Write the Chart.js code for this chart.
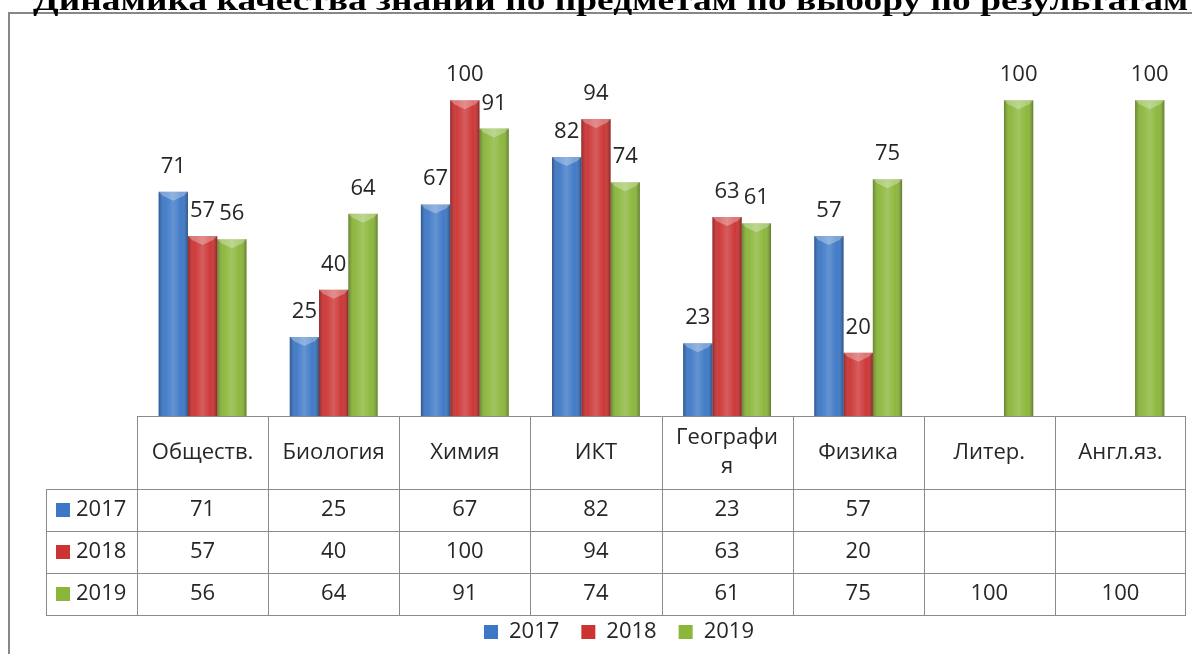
<!DOCTYPE html>
<html>
<head>
<meta charset="utf-8">
<script src="https://cdn.jsdelivr.net/npm/chart.js@4.4.0/dist/chart.umd.min.js"></script>
<style>
    html, body { margin: 0; padding: 0; background: #fff; overflow: hidden; }
    #frame {
        position: absolute; left: 8px; top: 12px; width: 1400px; height: 800px;
        border: 2.5px solid #878787; box-sizing: border-box;
    }
    #wrap { position: absolute; left: 0; top: 0; width: 1192px; height: 654px; }
    #title {
        position: absolute; left: 33px; top: -15px; white-space: nowrap;
        font: bold 30px/30px 'Liberation Serif', 'Times New Roman', serif; color: #000;
        transform-origin: 0 0;
    }
</style>
</head>
<body>
<div id="frame"></div>
<div id="wrap"><canvas id="chart-quality" width="1192" height="654"></canvas></div>
<div id="title">Динамика качества знаний по предметам по выбору по результатам</div>
<script>
// ---------- data ----------
const subjects = ['Обществ.', 'Биология', 'Химия', 'ИКТ', ['Географи', 'я'], 'Физика', 'Литер.', 'Англ.яз.'];
const years = ['2017', '2018', '2019'];
const q2017 = [71, 25, 67, 82, 23, 57, null, null];
const q2018 = [57, 40, 100, 94, 63, 20, null, null];
const q2019 = [56, 64, 91, 74, 61, 75, 100, 100];
const yMax = 120;

const barColors = ['#3d78c6', '#cc3434', '#8ab63a'];
const textColor = '#262626';

// stretch the title to the width it has in the picture
const titleEl = document.getElementById('title');
titleEl.style.transform = `scaleX(${1155 / titleEl.offsetWidth})`;

Chart.defaults.font.family = "'Open Sans', sans-serif";
Chart.defaults.font.size = 22;
Chart.defaults.color = textColor;

// bevel look + value labels over the bars
const barDecor = {
    id: 'barDecor',
    afterDatasetsDraw(chart) {
        const { ctx } = chart;
        chart.data.datasets.forEach((ds, di) => {
            chart.getDatasetMeta(di).data.forEach((bar, i) => {
                const v = ds.data[i];
                if (v == null) return;
                const l = bar.x - bar.width / 2, r = bar.x + bar.width / 2;
                const t = bar.y, b = bar.base;
                ctx.save();
                const g = ctx.createLinearGradient(l, 0, r, 0);
                g.addColorStop(0, 'rgba(0,0,0,0.28)');
                g.addColorStop(0.22, 'rgba(255,255,255,0.04)');
                g.addColorStop(0.5, 'rgba(255,255,255,0.2)');
                g.addColorStop(0.78, 'rgba(255,255,255,0.02)');
                g.addColorStop(1, 'rgba(0,0,0,0.32)');
                ctx.fillStyle = g;
                ctx.fillRect(l, t, r - l, b - t);
                // lighter chevron on the top face
                ctx.beginPath();
                ctx.moveTo(l, t);
                ctx.lineTo(r, t);
                ctx.lineTo(r - 4, t + 4);
                ctx.lineTo(bar.x, t + 9);
                ctx.lineTo(l + 4, t + 4);
                ctx.closePath();
                ctx.fillStyle = 'rgba(255,255,255,0.3)';
                ctx.fill();
                // value
                ctx.fillStyle = textColor;
                ctx.font = "22px 'Open Sans', sans-serif";
                ctx.textAlign = 'center';
                ctx.textBaseline = 'alphabetic';
                ctx.fillText(String(v), bar.x, t - 19);
                ctx.restore();
            });
        });
    }
};

// data table under the plot
const dataTable = {
    id: 'dataTable',
    afterDraw(chart) {
        const { ctx, chartArea, scales: { x } } = chart;
        const top = chartArea.bottom;
        const headH = 73, rowH = 42;
        const rowsTop = top + headH;
        const bottom = rowsTop + rowH * years.length;
        const half = (x.getPixelForValue(1) - x.getPixelForValue(0)) / 2;
        const left = chartArea.left, right = chartArea.right;
        const rowLeft = left - 91;
        const px = v => Math.round(v) + 0.5;

        ctx.save();
        ctx.strokeStyle = '#8a8a8a';
        ctx.lineWidth = 1;
        ctx.beginPath();
        ctx.moveTo(left, px(top)); ctx.lineTo(right, px(top));
        for (let r = 0; r <= years.length; r++) {
            const y = px(rowsTop + r * rowH);
            ctx.moveTo(rowLeft, y); ctx.lineTo(right, y);
        }
        ctx.moveTo(px(rowLeft), rowsTop); ctx.lineTo(px(rowLeft), bottom);
        for (let i = 0; i <= subjects.length; i++) {
            const xx = px(i < subjects.length ? x.getPixelForValue(i) - half : right - 1);
            ctx.moveTo(xx, top); ctx.lineTo(xx, bottom);
        }
        ctx.stroke();

        ctx.fillStyle = textColor;
        ctx.font = "22px 'Open Sans', sans-serif";
        ctx.textBaseline = 'middle';
        ctx.textAlign = 'center';
        subjects.forEach((s, i) => {
            const lines = Array.isArray(s) ? s : [s];
            const cx = x.getPixelForValue(i);
            const y0 = top + headH / 2 - (lines.length - 1) * 29 / 2;
            lines.forEach((ln, k) => ctx.fillText(ln, cx, y0 + k * 29));
        });

        const series = [q2017, q2018, q2019];
        series.forEach((vals, r) => {
            const cy = rowsTop + r * rowH + rowH / 2;
            ctx.fillStyle = barColors[r];
            ctx.fillRect(rowLeft + 10, cy - 7, 14, 14);
            ctx.fillStyle = textColor;
            ctx.textAlign = 'left';
            ctx.fillText(years[r], rowLeft + 30, cy);
            ctx.textAlign = 'center';
            vals.forEach((v, i) => {
                if (v != null) ctx.fillText(String(v), x.getPixelForValue(i), cy);
            });
        });
        ctx.restore();
    }
};

new Chart(document.getElementById('chart-quality'), {
    type: 'bar',
    data: {
        labels: subjects,
        datasets: [
            { label: years[0], data: q2017, backgroundColor: barColors[0] },
            { label: years[1], data: q2018, backgroundColor: barColors[1] },
            { label: years[2], data: q2019, backgroundColor: barColors[2] }
        ]
    },
    options: {
        responsive: false,
        animation: false,
        events: [],
        datasets: { bar: { barPercentage: 1, categoryPercentage: 0.67, borderWidth: 0 } },
        layout: { padding: { left: 52, right: 6, top: 37, bottom: 1 } },
        scales: {
            x: {
                grid: { display: false },
                border: { display: false },
                ticks: { display: false },
                afterFit: s => { s.height = 183; }
            },
            y: {
                min: 0, max: yMax,
                grid: { display: false },
                border: { display: false },
                ticks: { display: false },
                afterFit: s => { s.width = 85; }
            }
        },
        plugins: {
            tooltip: { enabled: false },
            legend: {
                position: 'bottom',
                labels: { boxWidth: 14, boxHeight: 14, padding: 22, font: { size: 22 } }
            }
        }
    },
    plugins: [barDecor, dataTable]
});
</script>
</body>
</html>
